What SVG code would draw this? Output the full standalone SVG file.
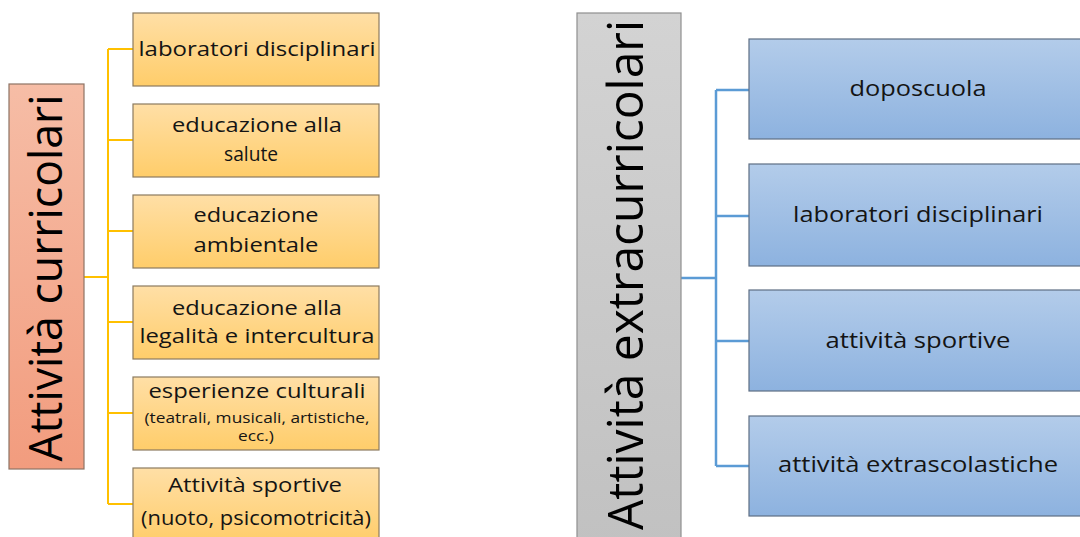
<svg xmlns="http://www.w3.org/2000/svg" width="1080" height="537" viewBox="0 0 1080 537">
  <defs>
    <linearGradient id="gY" x1="0" y1="0" x2="0" y2="1">
      <stop offset="0" stop-color="#FFDFA6"/>
      <stop offset="1" stop-color="#FFCD6A"/>
    </linearGradient>
    <linearGradient id="gB" x1="0" y1="0" x2="0" y2="1">
      <stop offset="0" stop-color="#B3CCEA"/>
      <stop offset="1" stop-color="#8DB2DF"/>
    </linearGradient>
    <linearGradient id="gS" x1="0" y1="0" x2="0" y2="1">
      <stop offset="0" stop-color="#F6BDA6"/>
      <stop offset="1" stop-color="#F29C7E"/>
    </linearGradient>
    <linearGradient id="gG" x1="0" y1="0" x2="0" y2="1">
      <stop offset="0" stop-color="#D3D3D3"/>
      <stop offset="1" stop-color="#C1C1C1"/>
    </linearGradient>
  </defs>
  <style>
    text { font-family: "Open Sans", "Liberation Sans", sans-serif; fill: #141414; text-anchor: middle; }
    .ybox { fill: url(#gY); stroke: #8C7B5F; stroke-width: 1.2; }
    .bbox { fill: url(#gB); stroke: #5E6E84; stroke-width: 1.2; }
    .t { font-size: 20px; }
    .s { font-size: 14px; }
    .bt { font-size: 21px; }
    .title { font-size: 46px; fill: #000; }
    .cy { fill: none; stroke: #FFC000; stroke-width: 2; }
    .cb { fill: none; stroke: #5B9BD5; stroke-width: 2.5; }
  </style>
  <rect width="1080" height="537" fill="#ffffff"/>

  <g id="connectors">
    <path class="cy" d="M84,277 H108 M108,49 V504 M108,49 H133 M108,140 H133 M108,231 H133 M108,322 H133 M108,413 H133 M108,504 H133"/>
    <path class="cb" d="M681,278 H716 M716,90 V466 M716,90 H749 M716,216 H749 M716,341 H749 M716,466 H749"/>
  </g>

  <g id="title-curricolari">
    <rect x="9" y="84" width="75" height="385" fill="url(#gS)" stroke="#8E7364" stroke-width="1.2"/>
    <text class="title" transform="translate(62,278) rotate(-90)" textLength="367" lengthAdjust="spacingAndGlyphs">Attività curricolari</text>
  </g>

  <g id="c1">
    <rect class="ybox" x="133" y="13" width="246" height="73"/>
    <text class="t" x="257" y="56" textLength="237" lengthAdjust="spacingAndGlyphs">laboratori disciplinari</text>
  </g>
  <g id="c2">
    <rect class="ybox" x="133" y="104" width="246" height="73"/>
    <text class="t" x="257" y="132" textLength="170" lengthAdjust="spacingAndGlyphs">educazione alla</text>
    <text class="t" x="251" y="161" textLength="54" lengthAdjust="spacingAndGlyphs">salute</text>
  </g>
  <g id="c3">
    <rect class="ybox" x="133" y="195" width="246" height="73"/>
    <text class="t" x="256" y="222" textLength="125" lengthAdjust="spacingAndGlyphs">educazione</text>
    <text class="t" x="256" y="252" textLength="125" lengthAdjust="spacingAndGlyphs">ambientale</text>
  </g>
  <g id="c4">
    <rect class="ybox" x="133" y="286" width="246" height="73"/>
    <text class="t" x="257" y="315" textLength="170" lengthAdjust="spacingAndGlyphs">educazione alla</text>
    <text class="t" x="257" y="343" textLength="235" lengthAdjust="spacingAndGlyphs">legalità e intercultura</text>
  </g>
  <g id="c5">
    <rect class="ybox" x="133" y="377" width="246" height="73"/>
    <text class="t" x="257" y="398" textLength="217" lengthAdjust="spacingAndGlyphs">esperienze culturali</text>
    <text class="s" x="257" y="423" textLength="225" lengthAdjust="spacingAndGlyphs">(teatrali, musicali, artistiche,</text>
    <text class="s" x="256" y="441" textLength="36" lengthAdjust="spacingAndGlyphs">ecc.)</text>
  </g>
  <g id="c6">
    <rect class="ybox" x="133" y="468" width="246" height="75"/>
    <text class="t" x="255" y="492" textLength="174" lengthAdjust="spacingAndGlyphs">Attività sportive</text>
    <text class="t" x="256" y="525" textLength="230" lengthAdjust="spacingAndGlyphs">(nuoto, psicomotricità)</text>
  </g>

  <g id="title-extracurricolari">
    <rect x="577" y="13" width="104" height="535" fill="url(#gG)" stroke="#8F8F8F" stroke-width="1.2"/>
    <text class="title" style="font-size:50px" transform="translate(643,275) rotate(-90)" textLength="510" lengthAdjust="spacingAndGlyphs">Attività extracurricolari</text>
  </g>

  <g id="e1">
    <rect class="bbox" x="749" y="39" width="340" height="100"/>
    <text class="bt" x="918" y="96" textLength="137" lengthAdjust="spacingAndGlyphs">doposcuola</text>
  </g>
  <g id="e2">
    <rect class="bbox" x="749" y="164" width="340" height="102"/>
    <text class="bt" x="918" y="222" textLength="250" lengthAdjust="spacingAndGlyphs">laboratori disciplinari</text>
  </g>
  <g id="e3">
    <rect class="bbox" x="749" y="290" width="340" height="101"/>
    <text class="bt" x="918" y="348" textLength="185" lengthAdjust="spacingAndGlyphs">attività sportive</text>
  </g>
  <g id="e4">
    <rect class="bbox" x="749" y="416" width="340" height="100"/>
    <text class="bt" x="918" y="472" textLength="280" lengthAdjust="spacingAndGlyphs">attività extrascolastiche</text>
  </g>
</svg>
